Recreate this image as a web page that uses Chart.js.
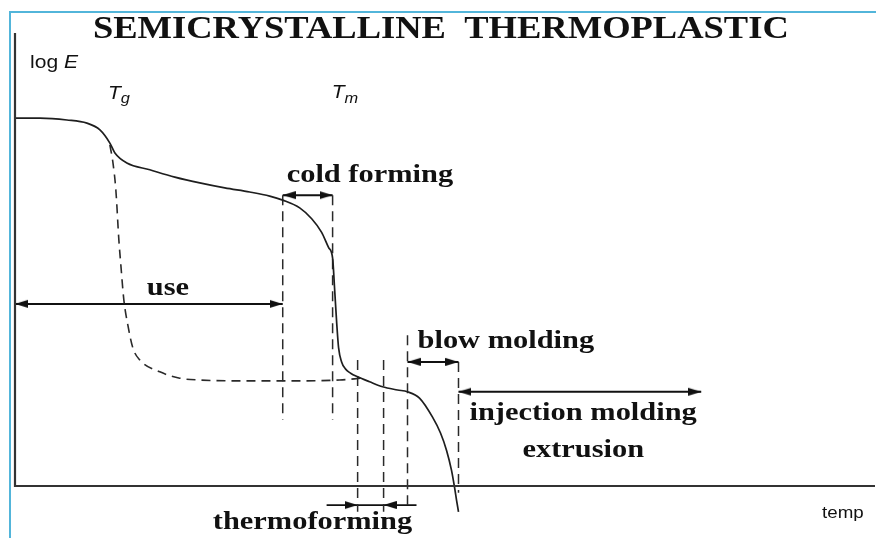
<!DOCTYPE html>
<html>
<head>
<meta charset="utf-8">
<script src="https://cdn.jsdelivr.net/npm/chart.js@4.4.1/dist/chart.umd.min.js"></script>
<style>
  html, body { margin: 0; padding: 0; background: #fff; }
  #wrap { position: relative; width: 876px; height: 538px; overflow: hidden; background: #fff; }
  #frame { position: absolute; left: 9px; top: 11px; width: 900px; height: 600px;
           border-left: 2px solid #52b5da; border-top: 2px solid #52b5da; }
  #c { position: absolute; left: 0; top: 0; }
</style>
</head>
<body>
<div id="wrap"><div id="frame"></div><canvas id="c" width="876" height="538"></canvas></div>
<script>
// Modulus (log E) versus temperature, arbitrary units.
// Semicrystalline polymer: solid curve.
const semiTemp = [0, 2.91, 6.06, 8.39, 9.91, 11.07, 11.66, 13.05, 15.73, 18.65, 21.56, 24.48, 27.39,
  29.72, 31.24, 33.22, 34.62, 35.78, 36.60, 37.06, 37.30, 37.53, 37.76, 38.11, 38.58, 39.16, 39.98,
  41.38, 42.89, 44.64, 45.80, 47.20, 48.72, 49.65, 50.35, 50.93, 51.28, 51.52, 51.75];
const semiLogE = [8.12, 8.12, 8.08, 8.01, 7.86, 7.57, 7.35, 7.13, 6.98, 6.82, 6.69, 6.58, 6.49,
  6.40, 6.31, 6.14, 5.90, 5.60, 5.26, 5.03, 4.33, 3.62, 3.05, 2.74, 2.58, 2.49, 2.41,
  2.30, 2.19, 2.12, 2.08, 1.94, 1.52, 1.17, 0.79, 0.35, -0.02, -0.31, -0.57];

// Amorphous phase: dashed curve dropping at Tg.
const amorphTemp = [11.07, 11.42, 11.77, 12.12, 12.35, 12.70, 13.17, 13.75, 14.57, 16.90, 19.23,
  21.56, 27.39, 33.22, 37.88, 40.44];
const amorphLogE = [7.53, 7.15, 6.53, 5.43, 4.88, 4.11, 3.55, 3.05, 2.78, 2.52, 2.38,
  2.34, 2.32, 2.32, 2.34, 2.38];

// Dashed boundaries of the processing windows.
const guideTemp   = [31.24, 37.06, 39.98, 43.01, 45.80, 51.75];
const guideTop    = [6.42, 6.42, 2.78, 2.78, 3.33, 2.74];
const guideBottom = [1.46, 1.46, -0.57, -0.57, -0.42, -0.15];

// Processing ranges drawn as double arrows.
const rangeNames = ['use', 'cold forming', 'blow molding', 'injection molding'];
const rangeFrom  = [0, 31.24, 45.80, 51.75];
const rangeTo    = [31.24, 37.06, 51.75, 80.07];
const rangeLevel = [4.02, 6.42, 2.74, 2.08];

// Thermoforming window, marked by arrows pointing in from both sides.
const thermoWindow = [39.98, 43.01];
const thermoLead   = [36.36, 46.85];
const thermoLevel  = -0.42;

const ink = '#1e1e1e';
const serif = '"Liberation Serif", "Times New Roman", serif';
const sans = '"Liberation Sans", Arial, sans-serif';
const stretch = 1.17;

function headSprite(len, half) {
  const c = document.createElement('canvas');
  c.width = len * 2;
  c.height = half * 2 + 2;
  const g = c.getContext('2d');
  g.fillStyle = '#111';
  g.beginPath();
  g.moveTo(len, half + 1);
  g.lineTo(0, 1);
  g.lineTo(0, 2 * half + 1);
  g.closePath();
  g.fill();
  return c;
}
const head = headSprite(13, 4);

function seg(points, opts) {
  return Object.assign({
    data: points, showLine: true, pointRadius: 0, borderColor: ink, borderWidth: 1.6,
    fill: false, clip: false, tension: 0
  }, opts);
}

const datasets = [];

// Axes
datasets.push(seg([{x: 0, y: 10}, {x: 0, y: 0}, {x: 100.35, y: 0}],
  {borderColor: '#333', borderWidth: 2.2}));

// Curves
datasets.push(seg(semiTemp.map((t, i) => ({x: t, y: semiLogE[i]})),
  {cubicInterpolationMode: 'monotone', borderWidth: 1.7}));
datasets.push(seg(amorphTemp.map((t, i) => ({x: t, y: amorphLogE[i]})),
  {cubicInterpolationMode: 'monotone', borderWidth: 1.6, borderDash: [9, 6], borderColor: '#2a2a2a'}));

// Guides
guideTemp.forEach((t, i) => {
  datasets.push(seg([{x: t, y: guideTop[i]}, {x: t, y: guideBottom[i]}],
    {borderWidth: 1.5, borderDash: [10, 6], borderColor: '#2a2a2a'}));
});

// Range arrows
rangeFrom.forEach((a, i) => {
  datasets.push(seg([{x: a, y: rangeLevel[i]}, {x: rangeTo[i], y: rangeLevel[i]}], {
    borderWidth: 2, borderColor: '#111', pointRadius: 1, pointStyle: head,
    pointRotation: [180, 0], pointBorderWidth: 0
  }));
});
datasets.push(seg([
  {x: thermoLead[0], y: thermoLevel}, {x: thermoWindow[0], y: thermoLevel},
  {x: thermoWindow[1], y: thermoLevel}, {x: thermoLead[1], y: thermoLevel}
], {
  borderWidth: 1.8, borderColor: '#111', pointRadius: [0, 1, 1, 0], pointStyle: head,
  pointRotation: [0, 0, 180, 0], pointBorderWidth: 0
}));

// Text annotations, anchored in data units (left edge, baseline).
const boldSerif = 'bold 26px ' + serif;
const notes = [
  {at: [1.75, 9.23], parts: [{t: 'log ', f: '18px ' + sans}, {t: 'E', f: 'italic 18px ' + sans}]},
  {at: [10.84, 8.54], parts: [{t: 'T', f: 'italic 18px ' + sans}, {t: 'g', f: 'italic 14px ' + sans, dy: 4}]},
  {at: [36.95, 8.57], parts: [{t: 'T', f: 'italic 18px ' + sans}, {t: 'm', f: 'italic 14px ' + sans, dy: 5}]},
  {at: [31.70, 6.71], parts: [{t: rangeNames[1], f: boldSerif}]},
  {at: [15.38, 4.22], parts: [{t: rangeNames[0], f: boldSerif}]},
  {at: [46.97, 3.05], parts: [{t: rangeNames[2], f: boldSerif}]},
  {at: [53.03, 1.46], parts: [{t: rangeNames[3], f: boldSerif}]},
  {at: [59.21, 0.64], parts: [{t: 'extrusion', f: boldSerif}]},
  {at: [23.08, -0.95], parts: [{t: 'thermoforming', f: boldSerif}]},
  {at: [94.17, -0.71], parts: [{t: 'temp', f: '16px ' + sans}]}
];
const titleText = 'SEMICRYSTALLINE  THERMOPLASTIC';
const titleAt = [9.09, 9.89];
const titleSpan = 81.2;

const notesPlugin = {
  id: 'notes',
  afterDraw(chart) {
    const {ctx} = chart;
    const sx = chart.scales.x, sy = chart.scales.y;
    ctx.save();
    ctx.fillStyle = '#111';
    ctx.textAlign = 'left';
    ctx.textBaseline = 'alphabetic';
    for (const n of notes) {
      const px = sx.getPixelForValue(n.at[0]);
      const py = sy.getPixelForValue(n.at[1]);
      ctx.save();
      ctx.translate(px, py);
      ctx.scale(stretch, 1);
      let cx = 0;
      for (const p of n.parts) {
        ctx.font = p.f;
        ctx.fillText(p.t, cx, p.dy || 0);
        cx += ctx.measureText(p.t).width;
      }
      ctx.restore();
    }
    // title
    const tx = sx.getPixelForValue(titleAt[0]);
    const ty = sy.getPixelForValue(titleAt[1]);
    const tw = sx.getPixelForValue(titleAt[0] + titleSpan) - tx;
    ctx.font = 'bold 31px ' + serif;
    const k = tw / ctx.measureText(titleText).width;
    ctx.translate(tx, ty);
    ctx.scale(k, 1);
    ctx.fillText(titleText, 0, 0);
    ctx.restore();
  }
};

new Chart(document.getElementById('c'), {
  type: 'scatter',
  data: {datasets},
  options: {
    responsive: false,
    devicePixelRatio: 1,
    animation: false,
    events: [],
    layout: {padding: {left: 15, right: 3, top: 33, bottom: 538 - 486 - 45.3}},
    scales: {
      x: {type: 'linear', min: 0, max: 100, display: false},
      y: {type: 'linear', min: -1, max: 10, display: false}
    },
    plugins: {legend: {display: false}, tooltip: {enabled: false}, title: {display: false}}
  },
  plugins: [notesPlugin]
});
</script>
</body>
</html>
